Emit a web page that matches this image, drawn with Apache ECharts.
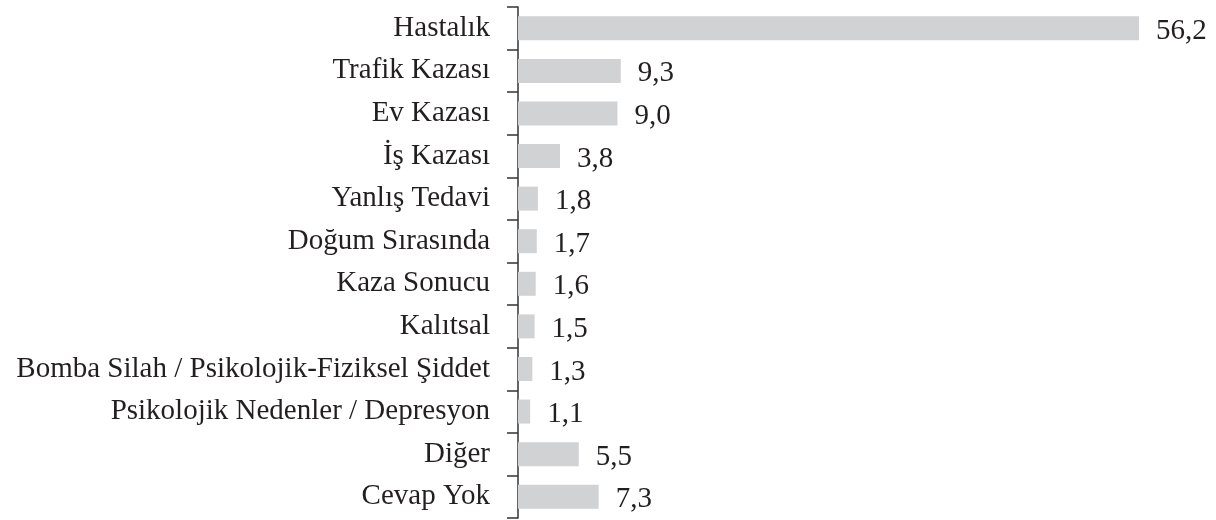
<!DOCTYPE html>
<html>
<head>
<meta charset="utf-8">
<script src="https://cdn.jsdelivr.net/npm/echarts@6/dist/echarts.min.js"></script>
<style>
  html, body { margin: 0; padding: 0; background: #fff; }
  #chart { width: 1216px; height: 520px; }
</style>
</head>
<body>
<div id="chart"></div>
<script>
const categories = [
  'Hastalık', 'Trafik Kazası', 'Ev Kazası', 'İş Kazası', 'Yanlış Tedavi',
  'Doğum Sırasında', 'Kaza Sonucu', 'Kalıtsal',
  'Bomba Silah / Psikolojik-Fiziksel Şiddet', 'Psikolojik Nedenler / Depresyon',
  'Diğer', 'Cevap Yok'
];
const values = [56.2, 9.3, 9.0, 3.8, 1.8, 1.7, 1.6, 1.5, 1.3, 1.1, 5.5, 7.3];

const font = '"Liberation Serif", "DejaVu Serif", serif';
const textColor = '#231f20';

const chart = echarts.init(document.getElementById('chart'));
chart.setOption({
  animation: false,
  grid: { left: 518, right: 35, top: 7, bottom: 2, containLabel: false },
  xAxis: { type: 'value', min: 0, max: 60, show: false },
  yAxis: {
    type: 'category',
    data: categories,
    inverse: true,
    axisLine: { show: true, lineStyle: { color: '#333', width: 1.5 } },
    axisTick: { show: true, length: 11, lineStyle: { color: '#333', width: 1.5 } },
    axisLabel: {
      margin: 28,
      fontFamily: font,
      fontSize: 29,
      color: textColor
    }
  },
  series: [{
    type: 'bar',
    data: values,
    barWidth: 24,
    itemStyle: { color: '#d1d2d4' },
    label: {
      show: true,
      position: 'right',
      distance: 17,
      offset: [0, 3],
      fontFamily: font,
      fontSize: 29,
      color: textColor,
      formatter: p => p.value.toFixed(1).replace('.', ',')
    }
  }]
});
</script>
</body>
</html>
